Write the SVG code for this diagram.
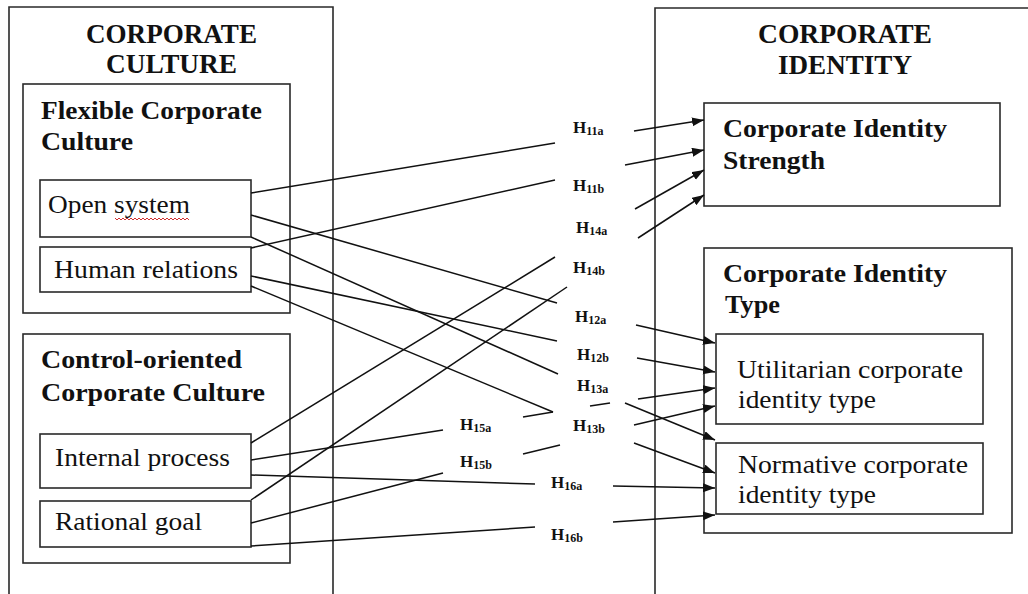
<svg xmlns="http://www.w3.org/2000/svg" width="1028" height="594" viewBox="0 0 1028 594">
<style>
.box{fill:none;stroke:#2a2a2a;stroke-width:1.6}
.t{font-family:"Liberation Serif","Times New Roman",serif;fill:#111}
.b{font-weight:bold;font-size:25px}
.ti{font-weight:bold;font-size:27px}
.r{font-size:26px}
.h{font-family:"Liberation Serif","Times New Roman",serif;font-weight:bold;font-size:17px;fill:#111}
.s{font-size:12px}
.c{fill:none;stroke:#111;stroke-width:1.5}
.a{marker-end:url(#arr)}
</style>
<defs>
<marker id="arr" markerUnits="userSpaceOnUse" markerWidth="13" markerHeight="10" refX="12" refY="4.5" orient="auto">
<path d="M0,0 L12,4.5 L0,9 z" fill="#111"/>
</marker>
</defs>
<rect width="1028" height="594" fill="#fff"/>

<g id="corporate-culture">
<path class="box" d="M9,600 V7 H333 V600"/>
<text class="t ti" x="86" y="43" textLength="171" lengthAdjust="spacingAndGlyphs">CORPORATE</text>
<text class="t ti" x="106" y="73" textLength="131" lengthAdjust="spacingAndGlyphs">CULTURE</text>
</g>

<g id="flexible-culture">
<rect class="box" x="23" y="84" width="267" height="229"/>
<text class="t b" x="41" y="119" textLength="221" lengthAdjust="spacingAndGlyphs">Flexible Corporate</text>
<text class="t b" x="41" y="150" textLength="92" lengthAdjust="spacingAndGlyphs">Culture</text>
</g>

<g id="open-system">
<rect class="box" x="40" y="180" width="211" height="57"/>
<text class="t r" x="48" y="213" textLength="142" lengthAdjust="spacingAndGlyphs">Open system</text>
<path d="M115,218 l2,2 l2,-2 l2,2 l2,-2 l2,2 l2,-2 l2,2 l2,-2 l2,2 l2,-2 l2,2 l2,-2 l2,2 l2,-2 l2,2 l2,-2 l2,2 l2,-2 l2,2 l2,-2 l2,2 l2,-2 l2,2 l2,-2 l2,2 l2,-2 l2,2 l2,-2 l2,2 l2,-2 l2,2 l2,-2 l2,2 l2,-2 l2,2 l2,-2 l2,2" fill="none" stroke="#d03030" stroke-width="1"/>
</g>

<g id="human-relations">
<rect class="box" x="40" y="247" width="211" height="45"/>
<text class="t r" x="54" y="278" textLength="184" lengthAdjust="spacingAndGlyphs">Human relations</text>
</g>

<g id="control-culture">
<rect class="box" x="23" y="334" width="267" height="229"/>
<text class="t b" x="41" y="368" textLength="201" lengthAdjust="spacingAndGlyphs">Control-oriented</text>
<text class="t b" x="41" y="401" textLength="224" lengthAdjust="spacingAndGlyphs">Corporate Culture</text>
</g>

<g id="internal-process">
<rect class="box" x="40" y="434" width="211" height="54"/>
<text class="t r" x="55" y="466" textLength="175" lengthAdjust="spacingAndGlyphs">Internal process</text>
</g>

<g id="rational-goal">
<rect class="box" x="40" y="501" width="211" height="46"/>
<text class="t r" x="55" y="530" textLength="147" lengthAdjust="spacingAndGlyphs">Rational goal</text>
</g>

<g id="corporate-identity">
<path class="box" d="M655,600 V8 H1030"/>
<text class="t ti" x="758" y="43" textLength="174" lengthAdjust="spacingAndGlyphs">CORPORATE</text>
<text class="t ti" x="778" y="74" textLength="134" lengthAdjust="spacingAndGlyphs">IDENTITY</text>
</g>

<g id="identity-strength">
<rect class="box" x="704" y="103" width="296" height="103"/>
<text class="t b" x="723" y="137" textLength="224" lengthAdjust="spacingAndGlyphs">Corporate Identity</text>
<text class="t b" x="723" y="169" textLength="102" lengthAdjust="spacingAndGlyphs">Strength</text>
</g>

<g id="identity-type">
<rect class="box" x="704" y="248" width="308" height="285"/>
<text class="t b" x="723" y="282" textLength="224" lengthAdjust="spacingAndGlyphs">Corporate Identity</text>
<text class="t b" x="725" y="313" textLength="55" lengthAdjust="spacingAndGlyphs">Type</text>
</g>

<g id="utilitarian">
<rect class="box" x="716" y="334" width="267" height="90"/>
<text class="t r" x="737" y="378" textLength="226" lengthAdjust="spacingAndGlyphs">Utilitarian corporate</text>
<text class="t r" x="738" y="408" textLength="138" lengthAdjust="spacingAndGlyphs">identity type</text>
</g>

<g id="normative">
<rect class="box" x="716" y="443" width="267" height="71"/>
<text class="t r" x="738" y="473" textLength="230" lengthAdjust="spacingAndGlyphs">Normative corporate</text>
<text class="t r" x="738" y="503" textLength="138" lengthAdjust="spacingAndGlyphs">identity type</text>
</g>

<g id="connectors">
<!-- H11a -->
<line class="c" x1="251" y1="193" x2="555" y2="143"/>
<line class="c a" x1="634" y1="131" x2="704" y2="120"/>
<!-- H11b -->
<line class="c" x1="251" y1="248" x2="555" y2="180"/>
<line class="c a" x1="625" y1="165" x2="704" y2="150"/>
<!-- H14a -->
<line class="c" x1="251" y1="443" x2="555" y2="257"/>
<line class="c a" x1="635" y1="209" x2="704" y2="170"/>
<!-- H14b -->
<line class="c" x1="251" y1="500" x2="567" y2="287"/>
<line class="c a" x1="638" y1="238" x2="704" y2="195"/>
<!-- H12a -->
<line class="c" x1="251" y1="215" x2="557" y2="303"/>
<line class="c a" x1="636" y1="325" x2="715" y2="343"/>
<!-- H12b -->
<line class="c" x1="251" y1="276" x2="557" y2="341"/>
<line class="c a" x1="637" y1="358" x2="715" y2="372"/>
<!-- H13a -->
<line class="c" x1="251" y1="237" x2="558" y2="374"/>
<line class="c a" x1="625" y1="403" x2="715" y2="440"/>
<!-- H13b -->
<line class="c" x1="251" y1="286" x2="553" y2="412"/>
<line class="c a" x1="634" y1="443" x2="715" y2="473"/>
<!-- H15a -->
<line class="c" x1="251" y1="460" x2="443" y2="430"/>
<line class="c" x1="523" y1="417" x2="553" y2="412"/>
<line class="c" x1="590" y1="406" x2="610" y2="403"/>
<line class="c a" x1="638" y1="399" x2="715" y2="388"/>
<!-- H15b -->
<line class="c" x1="251" y1="523" x2="443" y2="473"/>
<line class="c" x1="523" y1="454" x2="560" y2="445"/>
<line class="c a" x1="634" y1="425" x2="715" y2="406"/>
<!-- H16a -->
<line class="c" x1="251" y1="475" x2="535" y2="484"/>
<line class="c a" x1="613" y1="486" x2="715" y2="488"/>
<!-- H16b -->
<line class="c" x1="251" y1="546" x2="535" y2="527"/>
<line class="c a" x1="613" y1="522" x2="715" y2="515"/>
</g>

<g id="labels">
<text class="h" x="573" y="133">H<tspan class="s" dy="2">11a</tspan></text>
<text class="h" x="573" y="191">H<tspan class="s" dy="2">11b</tspan></text>
<text class="h" x="576" y="233">H<tspan class="s" dy="2">14a</tspan></text>
<text class="h" x="573" y="273">H<tspan class="s" dy="2">14b</tspan></text>
<text class="h" x="575" y="322">H<tspan class="s" dy="2">12a</tspan></text>
<text class="h" x="577" y="360">H<tspan class="s" dy="2">12b</tspan></text>
<text class="h" x="577" y="391">H<tspan class="s" dy="2">13a</tspan></text>
<text class="h" x="573" y="431">H<tspan class="s" dy="2">13b</tspan></text>
<text class="h" x="460" y="430">H<tspan class="s" dy="2">15a</tspan></text>
<text class="h" x="460" y="467">H<tspan class="s" dy="2">15b</tspan></text>
<text class="h" x="551" y="488">H<tspan class="s" dy="2">16a</tspan></text>
<text class="h" x="551" y="540">H<tspan class="s" dy="2">16b</tspan></text>
</g>
</svg>
